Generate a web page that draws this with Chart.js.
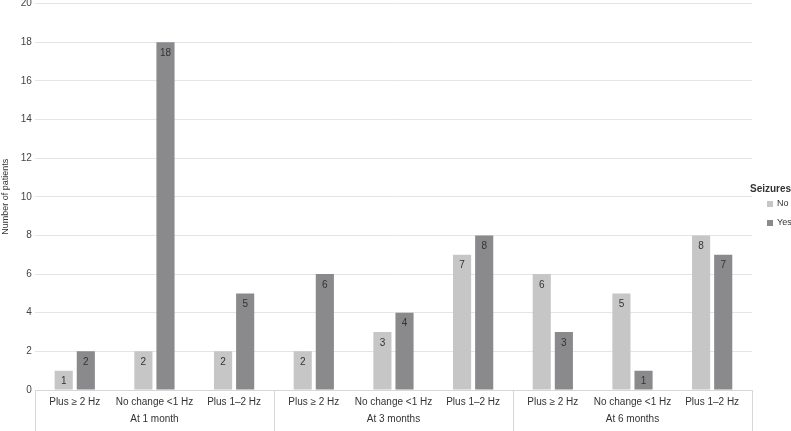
<!DOCTYPE html>
<html>
<head>
<meta charset="utf-8">
<script src="https://cdn.jsdelivr.net/npm/chart.js@4"></script>
<style>
  html, body { margin: 0; padding: 0; background: #fff; }
  #wrap { width: 791px; height: 431px; }
</style>
</head>
<body>
<div id="wrap"><canvas id="chart"></canvas></div>
<script>
// --- data ---
const groups = ["At 1 month", "At 3 months", "At 6 months"];
const subLabels = ["Plus \u2265 2 Hz", "No change <1 Hz", "Plus 1\u20132 Hz"];
const noValues = [1, 2, 2, 2, 3, 7, 6, 5, 8];
const yesValues = [2, 18, 5, 6, 4, 8, 3, 1, 7];
const yTicks = [0, 2, 4, 6, 8, 10, 12, 14, 16, 18, 20];

const labels = [];
groups.forEach(() => subLabels.forEach((s) => labels.push(s)));

const colorNo = "#c6c6c7";
const colorYes = "#8a8a8d";
const textColor = "#333";
const font = "Liberation Sans, Arial, sans-serif";

// value labels inside the bars + grouping lines + legend
const extras = {
  id: "extras",
  afterDatasetsDraw(chart) {
    const ctx = chart.ctx;
    ctx.save();
    ctx.font = "10px " + font;
    ctx.fillStyle = textColor;
    ctx.textAlign = "center";
    ctx.textBaseline = "middle";
    chart.data.datasets.forEach((ds, i) => {
      chart.getDatasetMeta(i).data.forEach((bar, j) => {
        ctx.fillText(String(ds.data[j]), bar.x, bar.y + 11);
      });
    });
    ctx.restore();
  },
  afterDraw(chart) {
    const ctx = chart.ctx;
    const area = chart.chartArea;
    const n = subLabels.length;
    const step = (area.right - area.left) / labels.length;
    ctx.save();
    ctx.strokeStyle = "#d6d6d6";
    ctx.lineWidth = 1;
    // x axis line
    ctx.beginPath();
    ctx.moveTo(area.left, Math.round(area.bottom) + 0.5);
    ctx.lineTo(area.right, Math.round(area.bottom) + 0.5);
    ctx.stroke();
    // group separators
    for (let g = 0; g <= groups.length; g++) {
      const px = Math.round(area.left + g * n * step) + 0.5;
      ctx.beginPath();
      ctx.moveTo(px, area.bottom);
      ctx.lineTo(px, chart.height);
      ctx.stroke();
    }
    // group labels
    ctx.font = "10px " + font;
    ctx.fillStyle = textColor;
    ctx.textAlign = "center";
    ctx.textBaseline = "middle";
    groups.forEach((g, i) => {
      ctx.fillText(g, area.left + (i * n + n / 2) * step, area.bottom + 29);
    });
    // legend
    ctx.textAlign = "left";
    ctx.font = "bold 10px " + font;
    ctx.fillText("Seizures", 750, 189);
    ctx.font = "9px " + font;
    [["No", colorNo, 204], ["Yes", colorYes, 223]].forEach(([t, c, y]) => {
      ctx.fillStyle = c;
      ctx.fillRect(767, y - 3, 6, 6);
      ctx.fillStyle = textColor;
      ctx.fillText(t, 777, y);
    });
    ctx.restore();
  }
};

new Chart(document.getElementById("chart"), {
  type: "bar",
  data: {
    labels: labels,
    datasets: [
      { label: "No", data: noValues, backgroundColor: colorNo },
      { label: "Yes", data: yesValues, backgroundColor: colorYes }
    ]
  },
  options: {
    responsive: true,
    maintainAspectRatio: false,
    animation: false,
    datasets: { bar: { categoryPercentage: 0.555, barPercentage: 0.82 } },
    layout: { padding: { top: 0, right: 39, bottom: 17, left: 0 } },
    plugins: { legend: { display: false }, tooltip: { enabled: false } },
    scales: {
      x: {
        grid: { display: false, drawTicks: false },
        border: { display: false },
        ticks: {
          color: textColor, font: { family: font, size: 10 },
          maxRotation: 0, autoSkip: false, padding: 6
        }
      },
      y: {
        min: 0, max: 20,
        afterBuildTicks: (axis) => { axis.ticks = yTicks.map((v) => ({ value: v })); },
        grid: { color: "#e4e4e4", drawTicks: false },
        border: { display: false },
        ticks: { color: "#444", font: { family: font, size: 10, lineHeight: 0.1 }, padding: 3 },
        title: {
          display: true, text: "Number of patients",
          color: textColor, font: { family: font, size: 9 }, padding: { top: 0, bottom: 7 }
        }
      }
    }
  },
  plugins: [extras]
});
</script>
</body>
</html>
